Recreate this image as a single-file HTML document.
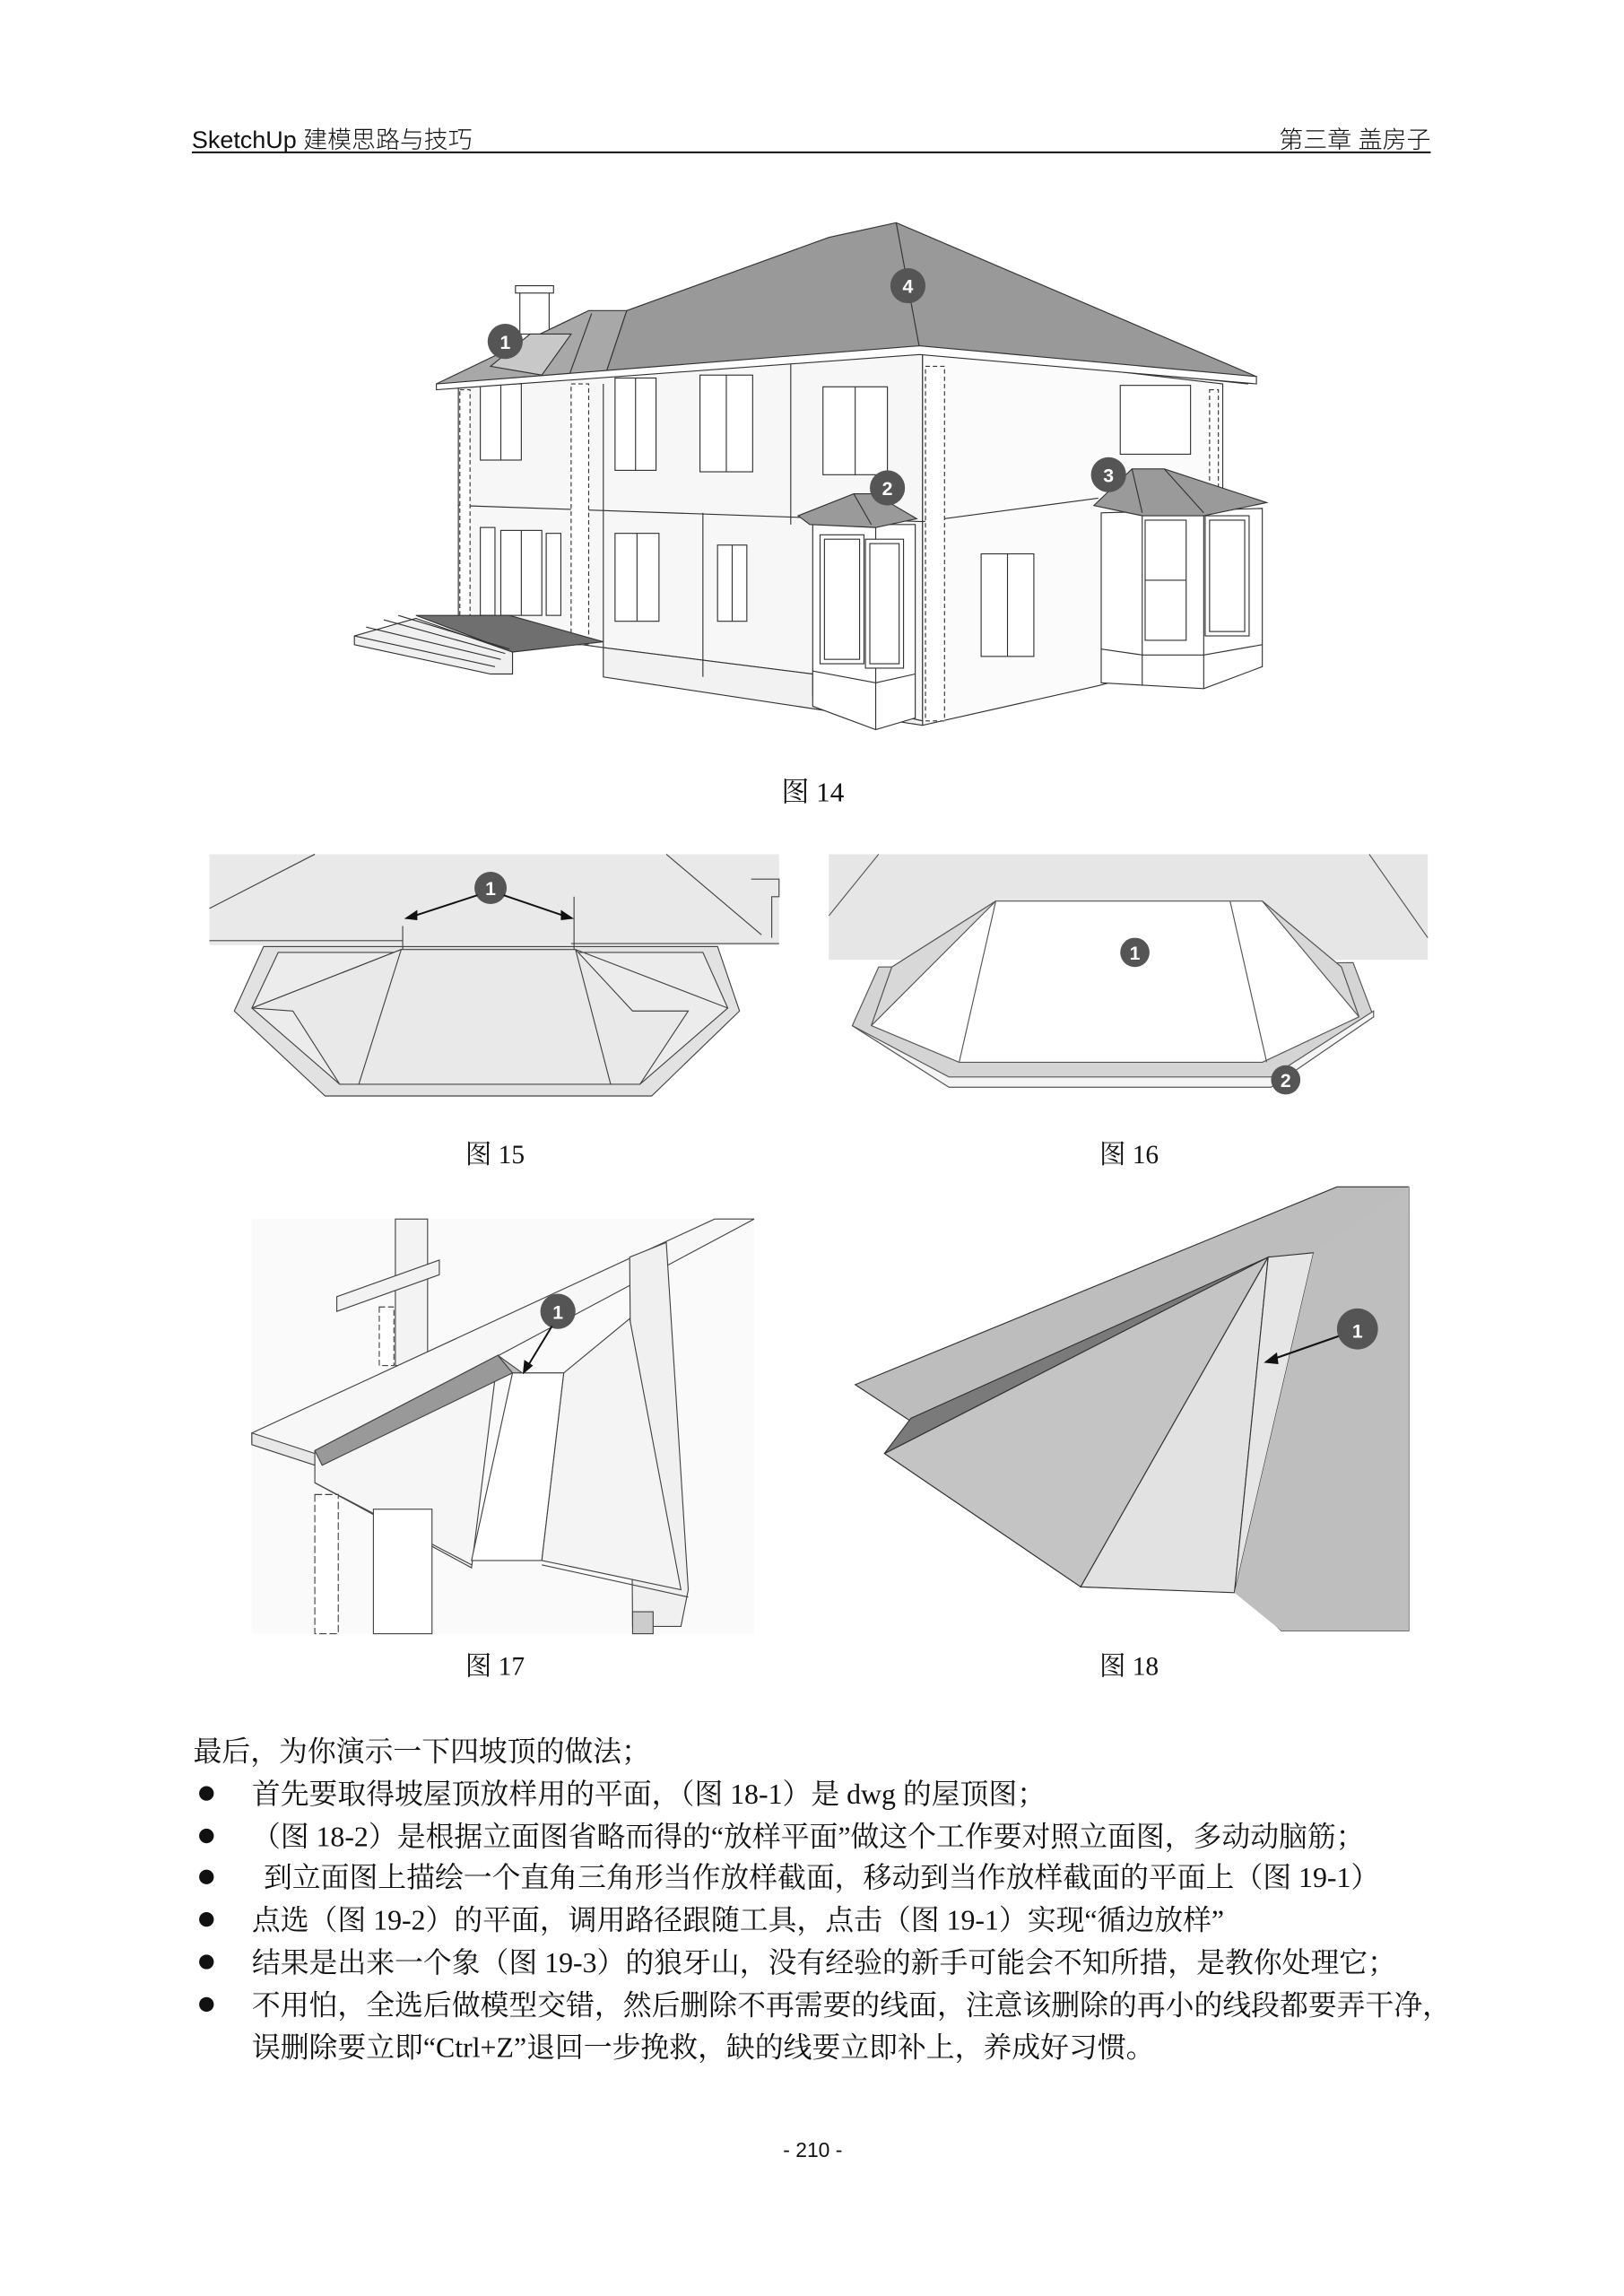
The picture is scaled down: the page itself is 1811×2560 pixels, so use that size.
<!DOCTYPE html>
<html><head><meta charset="utf-8"><style>
html,body{margin:0;padding:0;background:#fff}
svg{display:block}
text{font-family:"Liberation Serif","Noto Serif CJK SC","Noto Sans CJK SC",serif;fill:#111}
.h{font-family:"Liberation Sans","Noto Sans CJK SC",sans-serif;font-weight:300}
.b{font-family:"Liberation Sans","Noto Sans CJK SC",sans-serif;font-weight:bold;fill:#fff;font-size:13px;text-anchor:middle}
.l{stroke:#333;stroke-width:.7;fill:none}
</style></head><body>
<svg width="1811" height="2560" viewBox="0 0 1109 1567" preserveAspectRatio="none" xmlns="http://www.w3.org/2000/svg">
<text class="h" x="131" y="101" font-size="16.5">SketchUp 建模思路与技巧</text>
<text class="h" x="977" y="101" font-size="16.5" text-anchor="end">第三章 盖房子</text>
<line x1="131" y1="104" x2="977" y2="104" stroke="#111" stroke-width="1.2"/>

<g stroke="#333" stroke-width=".7">
<polygon points="313,262 630,238 630,492 555,475 555,460 412,442 313,428" fill="#f7f7f7"/>
<polygon points="630,238 835,262 835,445 750,468 630,495" fill="#fbfbfb"/>
<polygon points="412,442 555,460 555,475 630,492 630,495 412,462" fill="#f2f2f2"/>
<line x1="313" y1="345" x2="630" y2="356" class="l"/>
<line x1="630" y1="356" x2="750" y2="340" class="l"/>
<line x1="412" y1="262" x2="412" y2="442" class="l"/>
<line x1="540" y1="248" x2="540" y2="358" class="l"/>
<line x1="480" y1="350" x2="480" y2="462" class="l"/>
<rect x="390" y="262" width="12" height="178" fill="#fff" stroke-dasharray="3,2"/>
<rect x="632" y="250" width="13" height="242" fill="#fff" stroke-dasharray="3,2"/>
<rect x="314" y="266" width="7" height="160" fill="#fff" stroke-dasharray="3,2"/>
<rect x="826" y="266" width="6" height="80" fill="#fff" stroke-dasharray="3,2"/>
<rect x="328" y="262" width="28" height="52" fill="#fff"/><line x1="342" y1="262" x2="342" y2="314"/>
<rect x="420" y="258" width="28" height="63" fill="#fff"/><line x1="434" y1="258" x2="434" y2="321"/>
<rect x="478" y="256" width="36" height="66" fill="#fff"/><line x1="496" y1="256" x2="496" y2="322"/>
<rect x="562" y="264" width="44" height="60" fill="#fff"/><line x1="584" y1="264" x2="584" y2="324"/>
<rect x="765" y="263" width="48" height="47" fill="#fff"/>
<rect x="328" y="360" width="10" height="60" fill="#fff"/>
<rect x="342" y="362" width="28" height="58" fill="#fff"/><line x1="356" y1="362" x2="356" y2="420"/>
<rect x="373" y="364" width="10" height="56" fill="#fff"/>
<rect x="420" y="364" width="30" height="60" fill="#fff"/><line x1="435" y1="364" x2="435" y2="424"/>
<rect x="490" y="372" width="20" height="52" fill="#fff"/><line x1="500" y1="372" x2="500" y2="424"/>
<rect x="670" y="378" width="36" height="70" fill="#fff"/><line x1="688" y1="378" x2="688" y2="448"/>
<polygon points="555,358 625,358 625,490 598,498 555,482" fill="#fff"/>
<line x1="598" y1="360" x2="598" y2="498"/>
<line x1="555" y1="458" x2="598" y2="466"/><line x1="598" y1="466" x2="625" y2="460"/>
<rect x="560" y="365" width="30" height="88" fill="#fff"/><rect x="563" y="368" width="24" height="82" fill="#fff"/>
<rect x="591" y="368" width="26" height="88" fill="#fff"/><rect x="594" y="371" width="20" height="82" fill="#fff"/>
<polygon points="545,352 583,337 597,337 626,354 598,360 553,358" fill="#9a9a9a"/>
<line x1="583" y1="337" x2="595" y2="358"/>
<polygon points="752,350 862,347 862,455 822,470 752,466" fill="#fff"/>
<line x1="780" y1="350" x2="780" y2="468"/><line x1="822" y1="350" x2="822" y2="470"/>
<line x1="752" y1="443" x2="780" y2="447"/><line x1="780" y1="447" x2="822" y2="447"/><line x1="822" y1="447" x2="862" y2="440"/>
<rect x="782" y="355" width="28" height="82" fill="#fff"/><line x1="782" y1="396" x2="810" y2="396"/>
<rect x="823" y="352" width="30" height="82" fill="#fff"/><rect x="826" y="355" width="24" height="76" fill="#fff"/>
<polygon points="747,345 773,320 795,320 865,343 822,352 780,352" fill="#9a9a9a"/>
<line x1="773" y1="320" x2="780" y2="350"/><line x1="795" y1="320" x2="822" y2="350"/>
<polygon points="242,440 335,460 350,460 350,445 284,422 242,434" fill="#f0f0f0"/>
<polygon points="284,420 348,420 412,438 350,445" fill="#6f6f6f"/>
<line x1="242" y1="434" x2="338" y2="455" class="l"/><line x1="250" y1="428" x2="342" y2="450"/><line x1="262" y1="423" x2="345" y2="446"/><line x1="272" y1="420" x2="348" y2="443"/>
<rect x="355" y="198" width="20" height="30" fill="#fff"/><rect x="352" y="195" width="26" height="5" fill="#fff"/>
<polygon points="298,262 402,212 428,212 413,257 310,262" fill="#a8a8a8"/>
<polygon points="335,250 362,228 390,228 370,256" fill="#c8c8c8"/>
<polygon points="428,212 566,162 612,152 858,257 852,262 628,238 413,257" fill="#999"/>
<line x1="612" y1="152" x2="628" y2="238"/>
<line x1="404" y1="214" x2="388" y2="258"/>
<polygon points="298,262 628,236 858,257 858,262 628,242 298,266" fill="#fff"/>
</g>
<circle cx="620" cy="195" r="12" fill="#555"/><text class="b" x="620" y="200">4</text>
<circle cx="345" cy="233" r="12" fill="#555"/><text class="b" x="345" y="238">1</text>
<circle cx="606" cy="333" r="12" fill="#555"/><text class="b" x="606" y="338">2</text>
<circle cx="757" cy="324" r="12" fill="#555"/><text class="b" x="757" y="329">3</text>
<text x="555" y="547" font-size="19" text-anchor="middle">图 14</text>

<g stroke="#444" stroke-width=".7">
<polygon points="143,583 532,583 532,645 143,645" fill="#e9e9e9" stroke="none"/>
<polygon points="180,646 160,690 222,748 445,748 505,690 490,646" fill="#e2e2e2"/>
<polygon points="190,650 172,688 232,740 437,740 497,688 480,650" fill="#ececec"/>
<polygon points="274,648 393,648 432,690 470,690 437,740 232,740 200,690 172,688" fill="#e9e9e9"/>
<line x1="274" y1="648" x2="172" y2="688"/><line x1="393" y1="648" x2="497" y2="688"/>
<line x1="274" y1="648" x2="245" y2="740"/><line x1="393" y1="648" x2="417" y2="740"/>
<line x1="143" y1="642" x2="275" y2="642"/><line x1="390" y1="644" x2="532" y2="644"/>
<line x1="275" y1="632" x2="275" y2="648"/><line x1="392" y1="612" x2="392" y2="648"/>
<polyline points="143,620 215,583" fill="none"/><polyline points="455,583 520,638" fill="none"/>
<polyline points="513,600 532,600 532,612 527,612 527,640" fill="none"/>
</g>
<circle cx="335" cy="606" r="11" fill="#555"/><text class="b" x="335" y="611">1</text>
<line x1="326" y1="611" x2="280" y2="626" stroke="#111" stroke-width="1.2"/><polygon points="276,627 285,621 285,628" fill="#111"/>
<line x1="344" y1="611" x2="388" y2="626" stroke="#111" stroke-width="1.2"/><polygon points="392,627 383,621 383,628" fill="#111"/>
<text x="338" y="794" font-size="18" text-anchor="middle">图 15</text>

<g stroke="#555" stroke-width=".7">
<polygon points="566,583 975,583 975,655 566,655" fill="#e6e6e6" stroke="none"/>
<polygon points="600,660 582,700 648,742 868,742 938,694 924,657" fill="#d4d4d4"/>
<polygon points="582,700 648,735 868,735 938,690 938,694 868,742 648,742" fill="#f4f4f4"/>
<polygon points="609,660 595,700 655,725 862,725 928,694 916,660 862,615 680,615" fill="#fff"/>
<polygon points="609,660 680,615 595,700" fill="#d8d8d8"/>
<polygon points="916,660 862,615 928,694" fill="#d8d8d8"/>
<line x1="680" y1="615" x2="655" y2="725"/>
<line x1="840" y1="615" x2="865" y2="725"/>
<polyline points="566,625 600,583" fill="none"/><polyline points="935,583 975,640" fill="none"/>
</g>
<circle cx="775" cy="650" r="10" fill="#555"/><text class="b" x="775" y="655" font-size="11">1</text>
<circle cx="878" cy="737" r="10" fill="#555"/><text class="b" x="878" y="742" font-size="11">2</text>
<text x="771" y="794" font-size="18" text-anchor="middle">图 16</text>

<g stroke="#444" stroke-width=".7">
<polygon points="350,832 515,832 515,1115 172,1115 172,832" fill="#fafafa" stroke="none"/>
<rect x="270" y="832" width="22" height="100" fill="#f3f3f3"/>
<polygon points="230,885 300,860 300,870 230,895" fill="#f2f2f2"/>
<rect x="259" y="892" width="10" height="40" fill="#fff" stroke-dasharray="4,2"/>
<polygon points="172,978 488,832 515,832 215,992 172,985" fill="#f7f7f7"/>
<polygon points="172,978 215,992 215,1000 172,986" fill="#e8e8e8"/>
<polygon points="430,858 455,848 470,1085 465,1110 432,1110" fill="#f0f0f0"/>
<polygon points="215,990 340,925 322,1070 215,1012" fill="#f6f6f6"/>
<polygon points="215,990 340,925 350,937 220,1000" fill="#999"/>
<polygon points="340,925 358,938 385,937 350,937" fill="#bbb"/>
<polygon points="350,937 385,937 370,1065 322,1065" fill="#fff"/>
<polygon points="385,937 430,900 465,1085 370,1065" fill="#f4f4f4"/>
<line x1="215" y1="1012" x2="322" y2="1068"/><line x1="370" y1="1068" x2="470" y2="1090"/>
<rect x="215" y="1020" width="16" height="95" fill="#fff" stroke-dasharray="5,2"/>
<rect x="255" y="1030" width="40" height="85" fill="#fff"/>
<rect x="432" y="1100" width="14" height="15" fill="#ccc"/>
</g>
<circle cx="381" cy="895" r="12" fill="#555"/><text class="b" x="381" y="900">1</text>
<line x1="377" y1="905" x2="360" y2="933" stroke="#111" stroke-width="1.2"/><polygon points="357,938 358,928 364,932" fill="#111"/>
<text x="338" y="1143" font-size="18" text-anchor="middle">图 17</text>

<g stroke="#333" stroke-width=".7">
<polygon points="584,945 913,810 962,810 962,1113 875,1113 848,1087 738,1083 604,992 622,970" fill="#bdbdbd"/>
<polygon points="604,992 866,858 738,1083" fill="#c4c4c4"/>
<polygon points="622,968 866,858 604,992" fill="#7a7a7a"/>
<polygon points="866,858 738,1083 843,1087" fill="#e2e2e2"/>
<polygon points="866,858 897,855 843,1087" fill="#e6e6e6"/>
<polygon points="897,855 962,810 962,1113 875,1113 843,1087" fill="#bebebe" stroke="none"/>
</g>
<circle cx="927" cy="907" r="14" fill="#555"/><text class="b" x="927" y="913" font-size="15">1</text>
<line x1="914" y1="912" x2="868" y2="928" stroke="#111" stroke-width="1.3"/><polygon points="863,930 872,923 873,931" fill="#111"/>
<text x="771" y="1143" font-size="18" text-anchor="middle">图 18</text>

<g font-size="19.5">
<text x="132" y="1202">最后，为你演示一下四坡顶的做法；</text>
<text x="172" y="1231">首先要取得坡屋顶放样用的平面，（图 18-1）是 dwg 的屋顶图；</text>
<text x="172" y="1260">（图 18-2）是根据立面图省略而得的“放样平面”做这个工作要对照立面图，多动动脑筋；</text>
<text x="180" y="1288">到立面图上描绘一个直角三角形当作放样截面，移动到当作放样截面的平面上（图 19-1）</text>
<text x="172" y="1317">点选（图 19-2）的平面，调用路径跟随工具，点击（图 19-1）实现“循边放样”</text>
<text x="172" y="1346">结果是出来一个象（图 19-3）的狼牙山，没有经验的新手可能会不知所措，是教你处理它；</text>
<text x="172" y="1375">不用怕，全选后做模型交错，然后删除不再需要的线面，注意该删除的再小的线段都要弄干净，</text>
<text x="172" y="1404">误删除要立即“Ctrl+Z”退回一步挽救，缺的线要立即补上，养成好习惯。</text>
</g>
<g fill="#111"><circle cx="141" cy="1224" r="5"/><circle cx="141" cy="1253" r="5"/><circle cx="141" cy="1281" r="5"/><circle cx="141" cy="1310" r="5"/><circle cx="141" cy="1339" r="5"/><circle cx="141" cy="1368" r="5"/></g>
<text class="h" x="555" y="1472" font-size="14" text-anchor="middle">- 210 -</text>
</svg>
</body></html>
